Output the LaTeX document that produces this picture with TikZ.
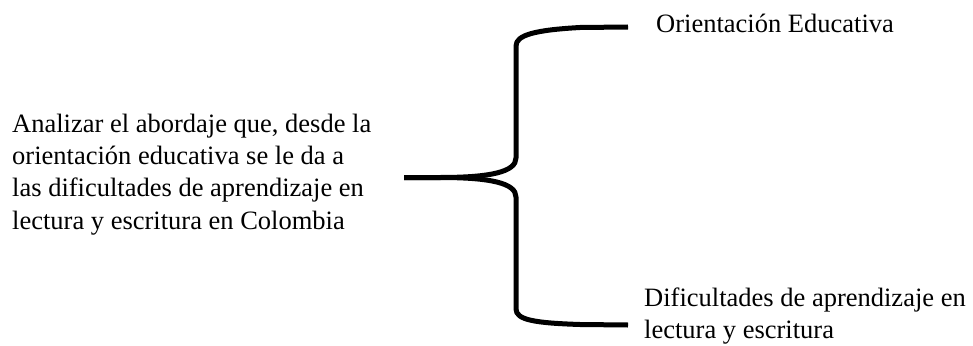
\documentclass[tikz,border=0pt]{standalone}
\usepackage{fontspec}
\setmainfont{Liberation Serif}
\begin{document}
\begin{tikzpicture}[x=1pt,y=-1pt,
  label text/.style={inner sep=0pt,align=left,font=\fontsize{26.5}{32.3}\selectfont},
  brace line/.style={line width=5pt,line join=round,line cap=butt}]
\useasboundingbox (0,0) rectangle (973,345);

% goal statement on the left (base anchor sits on the last line)
\node[label text,anchor=base west] (goal) at (12,229.2)
  {Analizar el abordaje que, desde la\\
   orientación educativa se le da a\\
   las dificultades de aprendizaje en\\
   lectura y escritura en Colombia};

% the two themes on the right
\node[label text,anchor=base west] (topic1) at (656,33) {Orientación Educativa};
\node[label text,anchor=base west] (topic2) at (644,338.5)
  {Dificultades de aprendizaje en\\ lectura y escritura};

% curly brace joining the goal to both themes
\coordinate (tip) at (404,177.5);
\coordinate (upend) at (628,27);
\coordinate (lowend) at (628,325);
\draw[brace line] (upend) -- (580,27.5)
  .. controls (535,30) and (516,35) .. (516,46)
  -- (516,158)
  .. controls (516,172) and (490,177.5) .. (440,177.5)
  -- (tip);
\draw[brace line] (tip) -- (440,177.5)
  .. controls (490,177.5) and (516,183) .. (516,197)
  -- (516,309)
  .. controls (516,320) and (535,323) .. (580,324.5)
  -- (lowend);
\end{tikzpicture}
\end{document}
